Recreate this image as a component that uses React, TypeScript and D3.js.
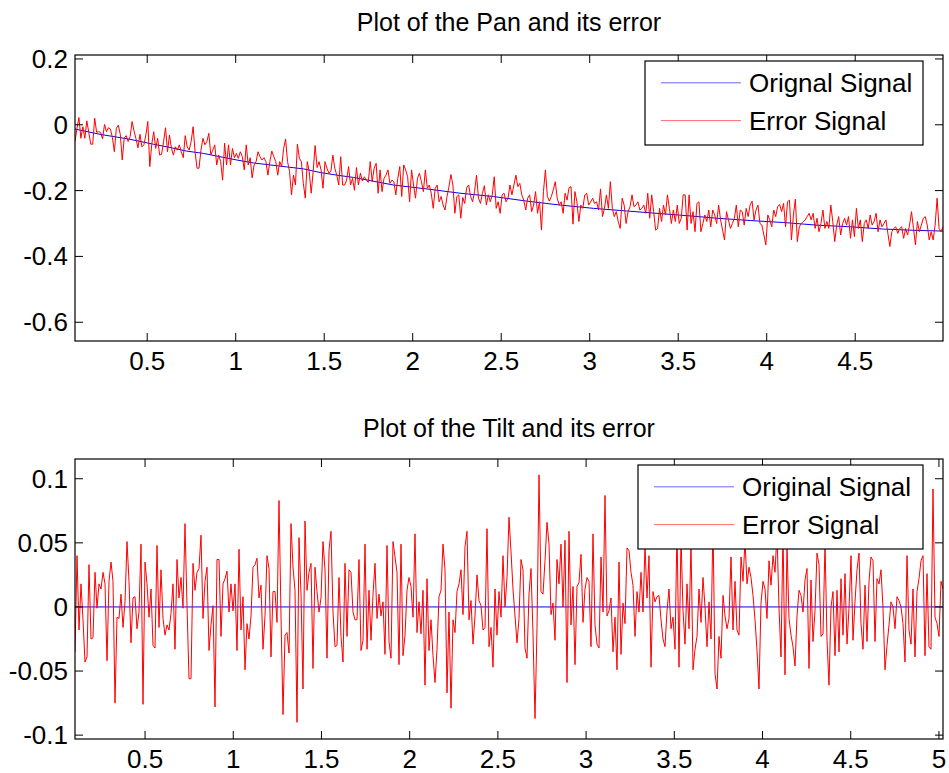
import * as d3 from "d3";

// ---------- Pan (top) ----------
const panXTicks = [0.5, 1, 1.5, 2, 2.5, 3, 3.5, 4, 4.5];
const panXLabels = ["0.5", "1", "1.5", "2", "2.5", "3", "3.5", "4", "4.5"];
const panYTicks = [0.2, 0, -0.2, -0.4, -0.6];
const panYLabels = ["0.2", "0", "-0.2", "-0.4", "-0.6"];
const panXRange: [number, number] = [0.092, 4.996];
const panYRange: [number, number] = [-0.657, 0.212];

// original (staircase-ish trend)
const panOrigT = [
  0.092, 0.233, 0.402, 0.534, 0.629, 0.723, 0.817, 0.911, 1.006, 1.1, 1.194,
  1.288, 1.382, 1.477, 1.571, 1.665, 1.891, 2.08, 2.268, 2.456, 2.645, 2.833,
  3.022, 3.21, 3.568, 3.719, 3.907, 4.096, 4.284, 4.473, 4.661, 4.85, 4.996,
];
const panOrig = [
  -0.013, -0.029, -0.044, -0.059, -0.069, -0.08, -0.087, -0.097, -0.107,
  -0.116, -0.122, -0.128, -0.134, -0.145, -0.153, -0.16, -0.183, -0.195,
  -0.208, -0.218, -0.232, -0.244, -0.254, -0.262, -0.277, -0.284, -0.291,
  -0.297, -0.305, -0.31, -0.317, -0.321, -0.323,
];

// error signal, evenly sampled over panXRange
const panError = [
  -0.051, -0.011, 0.022, -0.041, -0.006, -0.041, 0.012, -0.023, -0.059, -0.059,
  0.02, -0.023, -0.021, -0.023, -0.043, 0.001, -0.021, -0.009, -0.013, -0.039,
  -0.082, -0.011, -0.001, -0.029, -0.107, -0.041, -0.033, -0.051, -0.036, 0.01,
  -0.019, -0.043, -0.07, -0.029, -0.067, -0.061, -0.031, 0.01, -0.127, -0.059,
  -0.021, -0.072, -0.041, -0.092, -0.09, -0.051, -0.009, -0.082, -0.031, -0.072,
  -0.092, -0.067, -0.077, -0.061, -0.082, -0.1, -0.033, -0.067, -0.077, -0.051,
  -0.006, -0.082, -0.132, -0.132, -0.077, -0.041, -0.061, -0.051, -0.026, -0.092,
  -0.077, -0.061, -0.122, -0.092, -0.112, -0.168, -0.056, -0.122, -0.061, -0.122,
  -0.072, -0.1, -0.087, -0.102, -0.082, -0.097, -0.137, -0.061, -0.122, -0.1,
  -0.161, -0.122, -0.112, -0.082, -0.097, -0.107, -0.1, -0.112, -0.153, -0.112,
  -0.08, -0.097, -0.112, -0.153, -0.112, -0.127, -0.072, -0.043, -0.112, -0.142,
  -0.213, -0.153, -0.183, -0.059, -0.102, -0.112, -0.178, -0.223, -0.112, -0.142,
  -0.208, -0.142, -0.063, -0.13, -0.112, -0.137, -0.193, -0.112, -0.132, -0.147,
  -0.142, -0.092, -0.132, -0.153, -0.183, -0.097, -0.183, -0.183, -0.168, -0.127,
  -0.183, -0.163, -0.199, -0.13, -0.183, -0.147, -0.171, -0.158, -0.168, -0.175,
  -0.112, -0.173, -0.132, -0.117, -0.208, -0.137, -0.203, -0.163, -0.153, -0.137,
  -0.178, -0.168, -0.173, -0.213, -0.163, -0.127, -0.218, -0.122, -0.137, -0.158,
  -0.234, -0.137, -0.183, -0.223, -0.163, -0.147, -0.173, -0.203, -0.137, -0.193,
  -0.183, -0.208, -0.254, -0.193, -0.183, -0.234, -0.218, -0.244, -0.259, -0.218,
  -0.188, -0.151, -0.183, -0.269, -0.218, -0.213, -0.284, -0.221, -0.239, -0.191,
  -0.183, -0.218, -0.234, -0.203, -0.153, -0.223, -0.239, -0.208, -0.185, -0.244,
  -0.213, -0.234, -0.213, -0.158, -0.254, -0.234, -0.269, -0.213, -0.208, -0.234,
  -0.223, -0.183, -0.213, -0.183, -0.153, -0.188, -0.178, -0.213, -0.229, -0.259,
  -0.223, -0.213, -0.264, -0.244, -0.203, -0.269, -0.234, -0.32, -0.203, -0.137,
  -0.218, -0.232, -0.218, -0.198, -0.173, -0.223, -0.244, -0.234, -0.269, -0.208,
  -0.229, -0.191, -0.188, -0.302, -0.203, -0.234, -0.294, -0.244, -0.254, -0.213,
  -0.208, -0.244, -0.234, -0.223, -0.239, -0.234, -0.259, -0.195, -0.279, -0.254,
  -0.213, -0.254, -0.173, -0.254, -0.279, -0.264, -0.294, -0.315, -0.223, -0.244,
  -0.3, -0.264, -0.249, -0.213, -0.249, -0.244, -0.234, -0.259, -0.254, -0.244,
  -0.269, -0.208, -0.284, -0.213, -0.264, -0.32,
  -0.315, -0.254, -0.294, -0.244, -0.274, -0.213, -0.254, -0.3, -0.259, -0.294,
  -0.244, -0.3, -0.284, -0.213, -0.213, -0.32, -0.213, -0.3, -0.264, -0.325,
  -0.239, -0.234, -0.325, -0.3, -0.274, -0.294, -0.259, -0.31, -0.259, -0.274,
  -0.3, -0.244, -0.289, -0.32, -0.35, -0.264, -0.289, -0.315, -0.3, -0.284,
  -0.244, -0.31, -0.259, -0.264, -0.305, -0.254, -0.279, -0.244, -0.232, -0.289,
  -0.259, -0.244, -0.3, -0.305, -0.335, -0.365, -0.274, -0.289, -0.31, -0.259,
  -0.279, -0.249, -0.242, -0.264, -0.239, -0.31, -0.234, -0.229, -0.35, -0.274,
  -0.226, -0.355, -0.31, -0.3, -0.294, -0.289, -0.279, -0.269, -0.289, -0.269,
  -0.315, -0.284, -0.325, -0.3, -0.259, -0.315, -0.294, -0.315, -0.244, -0.294,
  -0.355, -0.305, -0.279, -0.335, -0.3, -0.284, -0.305, -0.279, -0.345, -0.289,
  -0.34, -0.254, -0.315, -0.289, -0.355, -0.3, -0.289, -0.315, -0.274, -0.305,
  -0.294, -0.269, -0.325, -0.289, -0.31, -0.3, -0.289, -0.33, -0.37, -0.325,
  -0.315, -0.31, -0.33, -0.315, -0.31, -0.345, -0.315, -0.335, -0.305, -0.264,
  -0.315, -0.365, -0.294, -0.325, -0.305, -0.284, -0.279, -0.305, -0.35, -0.325,
  -0.35, -0.305, -0.223, -0.315, -0.325, -0.31,
];

// ---------- Tilt (bottom) ----------
const tiltXTicks = [0.5, 1, 1.5, 2, 2.5, 3, 3.5, 4, 4.5, 5];
const tiltXLabels = ["0.5", "1", "1.5", "2", "2.5", "3", "3.5", "4", "4.5", "5"];
const tiltYTicks = [0.1, 0.05, 0, -0.05, -0.1];
const tiltYLabels = ["0.1", "0.05", "0", "-0.05", "-0.1"];
const tiltXRange: [number, number] = [0.103, 5.023];
const tiltYRange: [number, number] = [-0.103, 0.1154];

const tiltOrigT = [0.103, 5.023];
const tiltOrig = [0, 0];

const tiltError = [
  -0.035, 0.04, -0.018, 0.018, -0.01, -0.043, -0.039, 0.033, -0.025, -0.024,
  0.027, -0.001, 0.018, 0.014, 0.027, 0.018, -0.042, 0.02, 0.035, 0.02,
  -0.075, -0.008, -0.009, 0.01, -0.016, 0.004, 0.051, 0.02, -0.028, 0.007,
  0.008, -0.017, -0.004, 0.049, -0.076, 0.035, 0.018, -0.008, 0.014, -0.03,
  -0.032, 0.048, -0.016, 0.029, -0.009, -0.022, -0.014, -0.018, -0.005, 0.018,
  -0.033, 0.037, 0.007, 0.023, -0.001, 0.065, 0.001, -0.056, -0.056, 0.034,
  0.013, 0.027, 0.03, 0.056, -0.009, 0.02, 0.031, -0.034, -0.014, 0.001,
  -0.078, 0.037, 0.037, -0.023, 0.018, 0.022, 0.028, -0.004, 0.018, -0.003,
  0.018, -0.034, 0.045, -0.018, 0.008, -0.049, -0.013, -0.025, -0.007, 0.031,
  0.033, 0.038, 0.007, 0.017, -0.033, -0.007, 0.04, 0.03, -0.039, 0.012,
  0.012, -0.012, 0.083, -0.007, -0.084, -0.022, -0.02, -0.036, 0.065, 0.031,
  0.013, -0.09, 0.054, 0.01, -0.064, 0.067, 0.013, 0.027, 0.034, -0.048,
  0.031, 0.012, -0.004, 0.007, 0.051, 0.029, -0.04, 0.044, 0.059, -0.004,
  -0.031, -0.03, 0.023, -0.023, -0.043, 0.034, -0.023, 0.029, 0.027, -0.004,
  -0.01, -0.01, 0.037,
  -0.034, -0.026, 0.049, -0.033, 0.013, -0.026, 0.01, 0.034, -0.009, 0.01,
  -0.007, 0.004, -0.037, 0.048, -0.027, -0.04, 0.051, 0.039, 0.027, -0.045,
  0.049, -0.038, -0.022, 0.013, 0.023, 0.016, -0.008, 0.057, -0.02, 0.004,
  -0.021, 0.013, -0.061, 0.022, -0.034, -0.01, -0.038, -0.059, -0.033, 0.008,
  0.013, 0.049, 0.029, -0.067, -0.004, -0.079, -0.01, -0.02, 0.012, 0.018,
  0.029, -0.006, 0.047, 0.059, -0.01, 0.005, -0.029, -0.007, 0.025, 0.005,
  0.001, -0.018, -0.016, 0.061, -0.031, -0.016, -0.047, 0.014, -0.022, 0.012,
  -0.008, 0.04, 0.0, 0.023, 0.07, 0.043, 0.014, -0.007, -0.028, -0.009,
  0.037, 0.029, -0.032, -0.04, 0.01, 0.03, -0.021, -0.087, -0.017, 0.103,
  0.012, 0.01, 0.036, 0.066, 0.049, -0.006, 0.003, -0.026, 0.037, 0.018,
  0.049, 0.0, 0.052, -0.059, 0.059, -0.014, 0.016, -0.045, 0.016, 0.019,
  0.041, -0.012, 0.014, 0.023, 0.02, -0.031, 0.057, -0.014, -0.029, -0.032,
  0.039, -0.004, 0.087, -0.007, -0.003, 0.007, -0.035, -0.008, -0.049, 0.035,
  -0.037, 0.003, -0.013, 0.046, 0.044, 0.027, 0.017, -0.023, 0.012, -0.004,
  0.027, -0.004, 0.048, 0.007, 0.04, -0.047, 0.012, 0.004,
  0.008, 0.009, -0.01, -0.025, -0.031, -0.003, 0.014, -0.017, -0.008, -0.033,
  0.062, -0.047, 0.055, -0.003, -0.029, 0.018, -0.017, 0.05, -0.049, -0.033,
  -0.023, 0.014, -0.012, 0.023, 0.0, -0.031, 0.004, -0.025, 0.066, -0.052,
  -0.064, -0.023, -0.04, 0.009, -0.007, -0.017, -0.009, 0.039, -0.018, 0.02,
  -0.018, -0.022, 0.039, 0.02, 0.052, 0.018, 0.031, 0.023, 0.009, -0.01,
  -0.034, -0.064, 0.003, 0.02, 0.014, -0.009, 0.036, 0.017, 0.04, 0.027,
  0.058, -0.001, -0.039, 0.06, -0.053, 0.048, -0.009, -0.022, -0.031, -0.046,
  -0.007, 0.013, 0.009, -0.004, 0.021, 0.03, -0.048, 0.021, -0.027, -0.003,
  0.042, 0.033, -0.023, -0.021, 0.05, -0.026, -0.061, 0.0, 0.012, -0.038,
  0.013, -0.035, 0.022, -0.022, 0.026, -0.029, -0.001, 0.04, -0.026, 0.004,
  0.029, 0.042, -0.013, -0.033, 0.017, -0.027, 0.02, 0.039, 0.036, -0.027,
  0.022, 0.018, 0.029, -0.001, -0.049, -0.03, -0.014, 0.004, 0.0, -0.017,
  0.008, 0.005, 0.0, -0.013, -0.043, 0.04, -0.018, -0.029, 0.014, -0.039,
  0.012, 0.022, 0.036, 0.04, -0.038, 0.026, -0.031, -0.033, 0.092, -0.008,
  -0.013, -0.023, 0.02, 0.014,
];

const FONT = "'Liberation Sans', Arial, Helvetica, sans-serif";
const BLUE = "#0000ff";
const RED = "#ff0000";
const TICK = 8;

interface Box {
  left: number;
  right: number;
  top: number;
  bottom: number;
}

interface LegendSpec {
  left: number;
  top: number;
  width: number;
  height: number;
  labels: string[];
}

interface PanelProps {
  id: string;
  box: Box;
  title: string;
  titleY: number;
  xDomain: [number, number];
  yDomain: [number, number];
  xTicks: number[];
  xLabels: string[];
  yTicks: number[];
  yLabels: string[];
  origT: number[];
  orig: number[];
  err: number[];
  legend: LegendSpec;
}

function Panel(p: PanelProps) {
  const { box } = p;
  const x = d3.scaleLinear().domain(p.xDomain).range([box.left, box.right]);
  const y = d3.scaleLinear().domain(p.yDomain).range([box.bottom, box.top]);

  // error samples are evenly spaced across the x range
  const step = (p.xDomain[1] - p.xDomain[0]) / (p.err.length - 1);
  const errPath = d3
    .line<number>()
    .x((_, i) => x(p.xDomain[0] + i * step))
    .y((d) => y(d))(p.err);
  const origPath = d3
    .line<number>()
    .x((_, i) => x(p.origT[i]))
    .y((d) => y(d))(p.orig);

  const lg = p.legend;
  const rowY = [lg.top + lg.height * 0.26, lg.top + lg.height * 0.71];
  const lineX0 = lg.left + 16;
  const lineX1 = lg.left + 96;

  return (
    <g>
      <defs>
        <clipPath id={`clip-${p.id}`}>
          <rect
            x={box.left}
            y={box.top}
            width={box.right - box.left}
            height={box.bottom - box.top}
          />
        </clipPath>
      </defs>
      <rect
        x={box.left}
        y={box.top}
        width={box.right - box.left}
        height={box.bottom - box.top}
        fill="#fff"
      />
      <g clipPath={`url(#clip-${p.id})`}>
        <path d={origPath ?? ""} fill="none" stroke={BLUE} strokeWidth={1} />
        <path d={errPath ?? ""} fill="none" stroke={RED} strokeWidth={1} />
      </g>

      {/* ticks on all four sides, pointing inward */}
      {p.xTicks.map((t) => (
        <g key={`xt${t}`}>
          <line x1={x(t)} x2={x(t)} y1={box.bottom} y2={box.bottom - TICK} stroke="#000" />
          <line x1={x(t)} x2={x(t)} y1={box.top} y2={box.top + TICK} stroke="#000" />
        </g>
      ))}
      {p.yTicks.map((t) => (
        <g key={`yt${t}`}>
          <line x1={box.left} x2={box.left + TICK} y1={y(t)} y2={y(t)} stroke="#000" />
          <line x1={box.right} x2={box.right - TICK} y1={y(t)} y2={y(t)} stroke="#000" />
        </g>
      ))}
      <rect
        x={box.left}
        y={box.top}
        width={box.right - box.left}
        height={box.bottom - box.top}
        fill="none"
        stroke="#000"
        strokeWidth={1.2}
      />

      {p.xTicks.map((t, i) => (
        <text
          key={`xl${t}`}
          x={x(t)}
          y={box.bottom + 20}
          textAnchor="middle"
          dominantBaseline="central"
          fontSize={26}
        >
          {p.xLabels[i]}
        </text>
      ))}
      {p.yTicks.map((t, i) => (
        <text
          key={`yl${t}`}
          x={box.left - 7}
          y={y(t)}
          textAnchor="end"
          dominantBaseline="central"
          fontSize={26}
        >
          {p.yLabels[i]}
        </text>
      ))}

      <text
        x={(box.left + box.right) / 2}
        y={p.titleY}
        textAnchor="middle"
        dominantBaseline="central"
        fontSize={25}
      >
        {p.title}
      </text>

      {/* legend */}
      <rect
        x={lg.left}
        y={lg.top}
        width={lg.width}
        height={lg.height}
        fill="#fff"
        stroke="#000"
        strokeWidth={1.2}
      />
      {[BLUE, RED].map((c, i) => (
        <g key={c}>
          <line x1={lineX0} x2={lineX1} y1={rowY[i]} y2={rowY[i]} stroke={c} strokeOpacity={0.6} />
          <text
            x={lineX1 + 8}
            y={rowY[i]}
            dominantBaseline="central"
            fontSize={26}
          >
            {lg.labels[i]}
          </text>
        </g>
      ))}
    </g>
  );
}

export default function App() {
  return (
    <svg
      width={949}
      height={773}
      style={{ position: "absolute", left: 0, top: 0, background: "#fff", fontFamily: FONT }}
    >
      <rect width={949} height={773} fill="#fff" />
      <Panel
        id="pan"
        box={{ left: 75, right: 943, top: 55, bottom: 341 }}
        title="Plot of the Pan and its error"
        titleY={22}
        xDomain={panXRange}
        yDomain={panYRange}
        xTicks={panXTicks}
        xLabels={panXLabels}
        yTicks={panYTicks}
        yLabels={panYLabels}
        origT={panOrigT}
        orig={panOrig}
        err={panError}
        legend={{ left: 645, top: 61, width: 278, height: 84, labels: ["Orignal Signal", "Error Signal"] }}
      />
      <Panel
        id="tilt"
        box={{ left: 75, right: 943, top: 459, bottom: 739 }}
        title="Plot of the Tilt and its error"
        titleY={428}
        xDomain={tiltXRange}
        yDomain={tiltYRange}
        xTicks={tiltXTicks}
        xLabels={tiltXLabels}
        yTicks={tiltYTicks}
        yLabels={tiltYLabels}
        origT={tiltOrigT}
        orig={tiltOrig}
        err={tiltError}
        legend={{ left: 638, top: 465, width: 285, height: 84, labels: ["Original Signal", "Error Signal"] }}
      />
    </svg>
  );
}
